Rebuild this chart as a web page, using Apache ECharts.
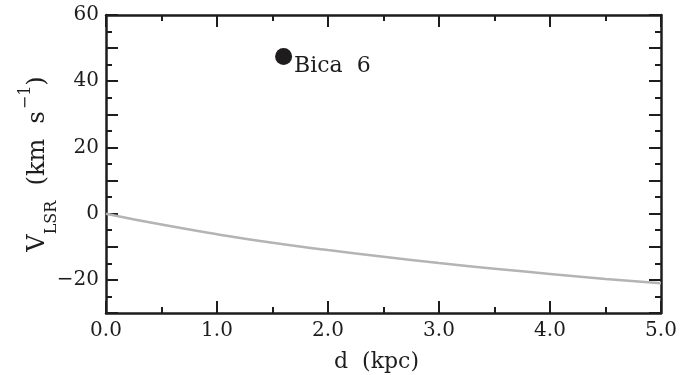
<!DOCTYPE html>
<html>
<head>
<meta charset="utf-8">
<script src="https://cdn.jsdelivr.net/npm/echarts@6/dist/echarts.min.js"></script>
<style>
  html, body { margin: 0; padding: 0; background: #fff; }
  #main { width: 695px; height: 375px; }
</style>
</head>
<body>
<div id="main"></div>
<script>
// rotation curve, V_LSR (km/s) against distance d (kpc)
var curveD = [0, 0.5, 1.0, 1.5, 2.0, 2.5, 3.0, 3.5, 4.0, 4.5, 5.0];
var curveV = [0, -3.3, -6.2, -8.8, -11.0, -13.0, -14.9, -16.6, -18.2, -19.7, -21.0];

// the cluster
var clusterName = 'Bica 6';
var clusterD = 1.6;
var clusterV = 47.5;

var myChart = echarts.init(document.getElementById('main'));

var FONT = 'DejaVu Serif';
var INK = '#1e1c1d';

function minus(v) {
    return String(v).replace('-', '\u2212');
}

var curveData = [];
for (var i = 0; i < curveD.length; i++) {
    curveData.push([curveD[i], curveV[i]]);
}

var xBase = {
    type: 'value', min: 0, max: 5, interval: 1,
    axisLine: { show: true, onZero: false, lineStyle: { color: INK, width: 2.5 } },
    axisTick: { show: true, inside: true, length: 12, lineStyle: { color: INK, width: 2 } },
    minorTick: { show: true, splitNumber: 2, length: 6, lineStyle: { color: INK, width: 2 } },
    splitLine: { show: false }
};
var yBase = {
    type: 'value', min: -30, max: 60, interval: 10,
    axisLine: { show: true, onZero: false, lineStyle: { color: INK, width: 2.5 } },
    axisTick: { show: true, inside: true, length: 12, lineStyle: { color: INK, width: 2 } },
    minorTick: { show: true, splitNumber: 2, length: 6, lineStyle: { color: INK, width: 2 } },
    splitLine: { show: false }
};

var option = {
    animation: false,
    backgroundColor: '#fff',
    grid: { left: 106, right: 34, top: 15, bottom: 62, outerBoundsMode: 'none', containLabel: false },
    xAxis: [
        echarts.util.merge({
            position: 'bottom',
            name: 'd  (kpc)',
            nameLocation: 'middle',
            nameGap: 38,
            nameMoveOverlap: false,
            nameTextStyle: { fontFamily: FONT, fontSize: 22, color: INK, padding: [0, 14, 0, 0] },
            axisLabel: {
                fontFamily: FONT, fontSize: 20, color: INK, margin: 8,
                formatter: function (v) { return v.toFixed(1); }
            }
        }, xBase, true),
        echarts.util.merge({ position: 'top', axisLabel: { show: false } }, xBase, true)
    ],
    yAxis: [
        echarts.util.merge({
            position: 'left',
            name: '{a|V}{sub|LSR}{a|  (km  s}{sup|\u22121}{a|)}',
            nameLocation: 'middle',
            nameGap: 52,
            nameMoveOverlap: false,
            nameTextStyle: {
                fontFamily: FONT, fontSize: 23, color: INK,
                rich: {
                    a: { fontFamily: FONT, fontSize: 24, color: INK, lineHeight: 32 },
                    sub: { fontFamily: FONT, fontSize: 16, color: INK, verticalAlign: 'bottom', padding: [0, 0, -6, 0] },
                    sup: { fontFamily: FONT, fontSize: 16, color: INK, verticalAlign: 'top', padding: [-4, 0, 0, 2] }
                }
            },
            axisLabel: {
                fontFamily: FONT, fontSize: 20, color: INK, margin: 7,
                formatter: function (v) { return v % 20 === 0 ? minus(v) : ''; }
            }
        }, yBase, true),
        echarts.util.merge({ position: 'right', axisLabel: { show: false } }, yBase, true)
    ],
    series: [
        {
            name: 'curve',
            type: 'line',
            data: curveData,
            smooth: true,
            showSymbol: false,
            lineStyle: { color: '#b4b4b4', width: 2.5 },
            z: 2
        },
        {
            name: clusterName,
            type: 'scatter',
            data: [[clusterD, clusterV]],
            symbolSize: 17,
            itemStyle: { color: INK, opacity: 1 },
            label: {
                show: true,
                position: 'right',
                distance: 2,
                offset: [0, 10],
                formatter: clusterName.replace(' ', '  '),
                fontFamily: FONT, fontSize: 22, color: INK
            },
            z: 3
        }
    ]
};

myChart.setOption(option);
</script>
</body>
</html>
